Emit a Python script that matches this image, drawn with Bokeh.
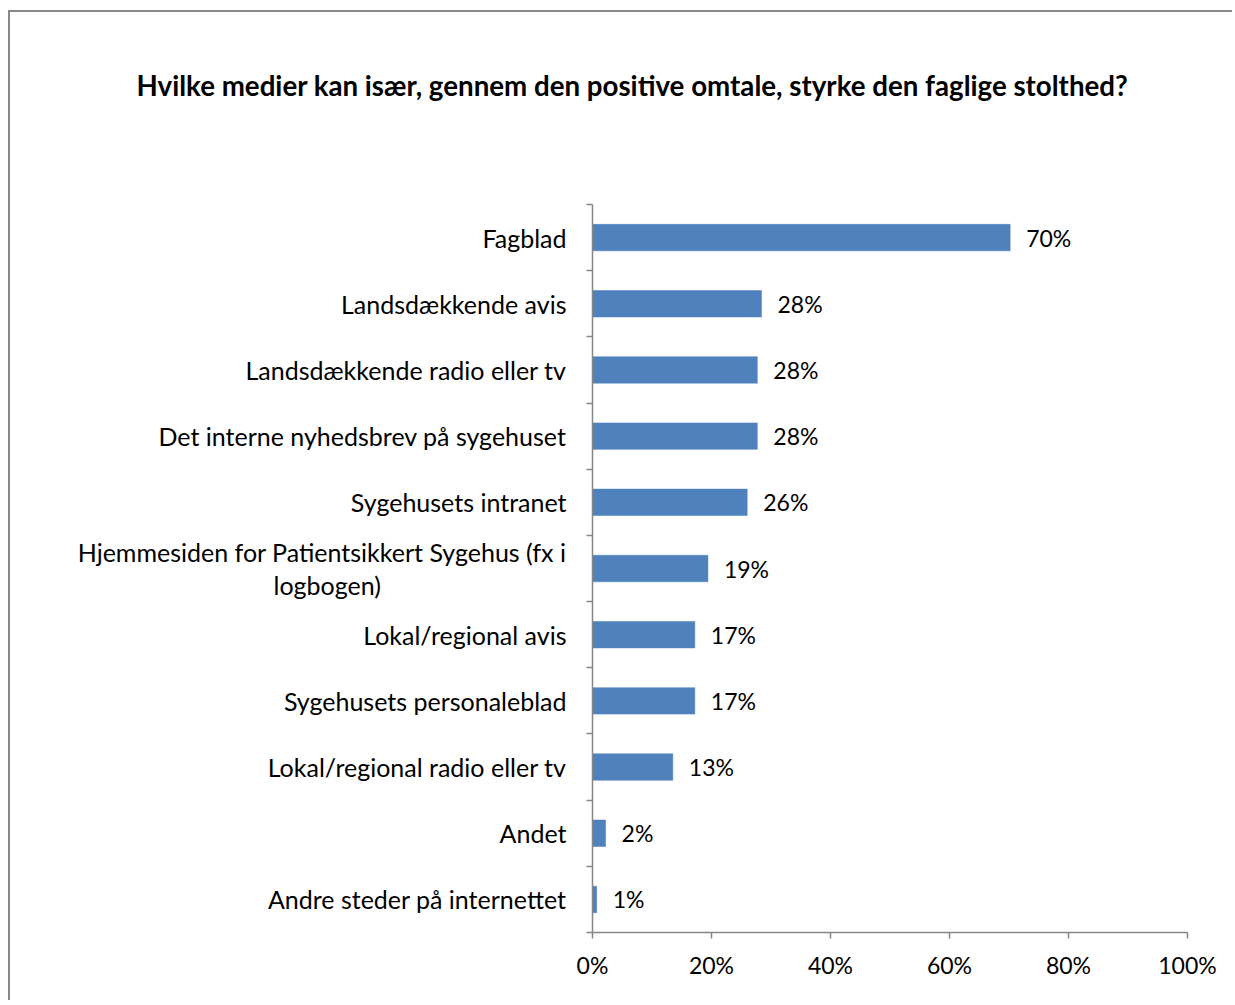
from bokeh.plotting import figure
from bokeh.models import FixedTicker, Range1d, Title
from bokeh.core.properties import value
from bokeh.embed import file_html
from bokeh.resources import INLINE

title_text = "Hvilke medier kan især, gennem den positive omtale, styrke den faglige stolthed?"
NBSP = "\u00a0"
categories = [
    "Fagblad",
    "Landsdækkende avis",
    "Landsdækkende radio eller tv",
    "Det interne nyhedsbrev på sygehuset",
    "Sygehusets intranet",
    "Hjemmesiden for Patientsikkert Sygehus (fx i\nlogbogen)" + NBSP * 29,
    "Lokal/regional avis",
    "Sygehusets personaleblad",
    "Lokal/regional radio eller tv",
    "Andet",
    "Andre steder på internettet",
]
values = [70.2, 28.4, 27.7, 27.7, 26.0, 19.4, 17.2, 17.2, 13.5, 2.2, 0.7]
value_labels = ["70%", "28%", "28%", "28%", "26%", "19%", "17%", "17%", "13%", "2%", "1%"]
x_ticks = [0, 20, 40, 60, 80, 100]
x_tick_labels = ["0%", "20%", "40%", "60%", "80%", "100%"]

FONT = "Lato"
AXIS_COLOR = "#868686"
BAR_COLOR = "#4F81BD"

n = len(categories)
ypos = [n - i - 0.5 for i in range(n)]

p = figure(
    output_backend="svg", toolbar_location=None,
    frame_width=595, frame_height=728,
    min_border_left=582, min_border_top=192, min_border_right=45, min_border_bottom=68,
    x_range=Range1d(0, 100), y_range=Range1d(0, n),
    title=title_text,
)
p.styles = {"border-left": "2px solid #888888", "border-top": "2px solid #888888",
            "margin-top": "10px", "margin-left": "8px"}
p.outline_line_color = None
p.xgrid.grid_line_color = None
p.ygrid.grid_line_color = None
p.background_fill_color = "white"
p.border_fill_color = "white"

p.title.align = "left"
p.title.offset = -456
p.title.standoff = 108
p.title.text_font = FONT
p.title.text_font_style = "bold"
p.title.text_font_size = "27.7px"
p.title.text_color = "black"

# empty spacer panel between the title and the plot area
p.add_layout(Title(text=" ", text_font_size="2px", standoff=45), "above")

p.hbar(y=ypos, left=0, right=values, height=0.4, fill_color=BAR_COLOR, line_color=BAR_COLOR, line_width=0.5)
p.text(x=values, y=ypos, text=value_labels, x_offset=16, text_align="left", text_baseline="middle",
       text_font=value(FONT), text_font_size="23px", text_color="black")

# y axis: labels at band centres, tick marks at band boundaries
ya = p.yaxis[0]
ya.ticker = FixedTicker(ticks=ypos, minor_ticks=list(range(0, n + 1)))
ya.major_label_overrides = {y: c for y, c in zip(ypos, categories)}
ya.major_tick_out = 0
ya.major_tick_in = 0
ya.minor_tick_out = 6
ya.minor_tick_in = 0
ya.minor_tick_line_color = AXIS_COLOR
ya.axis_line_color = AXIS_COLOR
ya.axis_line_width = 1.5
ya.minor_tick_line_width = 1.5
ya.major_label_standoff = 20
ya.major_label_text_font = FONT
ya.major_label_text_font_size = "25px"
ya.major_label_text_line_height = 1.1
ya.major_label_text_color = "black"

# x axis
xa = p.xaxis[0]
xa.ticker = FixedTicker(ticks=x_ticks, minor_ticks=[])
xa.major_label_overrides = {t: l for t, l in zip(x_ticks, x_tick_labels)}
xa.major_tick_out = 6
xa.major_tick_in = 0
xa.major_tick_line_color = AXIS_COLOR
xa.major_tick_line_width = 1.5
xa.axis_line_color = AXIS_COLOR
xa.axis_line_width = 1.5
xa.major_label_standoff = 12
xa.major_label_text_font = FONT
xa.major_label_text_font_size = "23px"
xa.major_label_text_color = "black"

open("out.html", "w").write(file_html(p, INLINE))
